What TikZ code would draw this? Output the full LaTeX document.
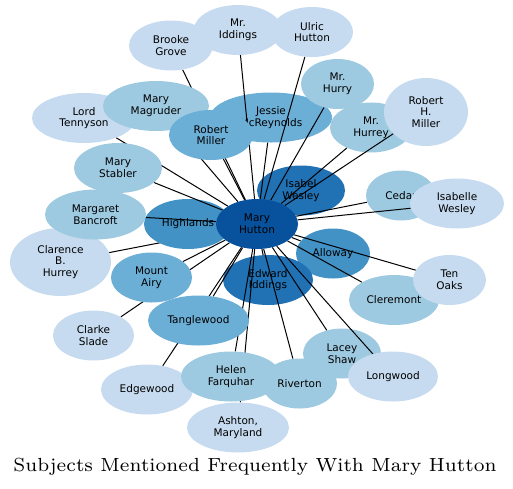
\documentclass[tikz,border=0pt]{standalone}
\usepackage{fontspec}
\usepackage{tikz}
\usetikzlibrary{shapes.geometric}
\newfontfamily\labelfont{DejaVu Sans}
\newfontfamily\titlefont{lmroman7-regular}[Extension=.otf]
\definecolor{paleblue}{RGB}{198, 219, 239}
\definecolor{softblue}{RGB}{158, 202, 225}
\definecolor{midblue}{RGB}{107, 174, 214}
\definecolor{richblue}{RGB}{66, 146, 198}
\definecolor{deepblue}{RGB}{33, 113, 181}
\definecolor{hubblue}{RGB}{8, 81, 156}
\pgfdeclarelayer{lowlinks}
\pgfdeclarelayer{lownodes}
\pgfdeclarelayer{links}
\pgfsetlayers{lowlinks,lownodes,links,main}

\begin{document}
\begin{tikzpicture}[
    x=1pt, y=-1pt,
    subject/.style={ellipse, inner sep=0pt, minimum height=50pt, align=center, text=black, font=\labelfont\fontsize{10.5}{11.8}\selectfont},
    pale/.style={subject, fill=paleblue},
    soft/.style={subject, fill=softblue},
    mid/.style={subject, fill=midblue},
    rich/.style={subject, fill=richblue},
    deep/.style={subject, fill=deepblue},
    hub/.style={subject, fill=hubblue},
    link/.style={draw=black, line width=1pt}
]
    \useasboundingbox (0,0) rectangle (513,488);

    % nodes that the links run over
    \begin{pgfonlayer}{lownodes}
    \node[mid, minimum width=122pt] (jessie) at (271,117.5) {Jessie\\McReynolds};
    \node[soft, minimum width=82pt] (hurrey) at (371,127.5) {Mr.\\Hurrey};
    \node[soft, minimum width=70pt] (cedar) at (401,195.5) {Cedar};
    \node[rich, minimum width=88pt] (highlands) at (188,224) {Highlands};
    \node[deep, minimum width=88pt] (isabel) at (301,190.5) {Isabel\\Wesley};
    \node[rich, minimum width=74pt] (alloway) at (333,253.5) {Alloway};
    \node[deep, minimum width=90pt] (edward) at (268,280) {Edward\\Iddings};
    \node[soft, minimum width=78pt] (lacey) at (342,353.5) {Lacey\\Shaw};
    \end{pgfonlayer}

    % nodes on top
    \node[pale, minimum width=84pt] (brooke) at (171,45.5) {Brooke\\Grove};
    \node[pale, minimum width=88pt] (iddings) at (238,30) {Mr.\\Iddings};
    \node[pale, minimum width=82pt] (ulric) at (312,32) {Ulric\\Hutton};
    \node[soft, minimum width=73pt] (hurry) at (337.5,84) {Mr.\\Hurry};
    \node[pale, minimum width=84pt, minimum height=68pt] (robertH) at (426,112) {Robert\\H.\\Miller};
    \node[pale, minimum width=104pt] (tennyson) at (84,118) {Lord\\Tennyson};
    \node[soft, minimum width=106pt] (magruder) at (156,106) {Mary\\Magruder};
    \node[mid, minimum width=84pt] (robert) at (211,135) {Robert\\Miller};
    \node[soft, minimum width=88pt] (stabler) at (118,168) {Mary\\Stabler};
    \node[pale, minimum width=101pt, minimum height=68pt] (clarence) at (60.5,262) {Clarence\\B.\\Hurrey};
    \node[soft, minimum width=101pt] (bancroft) at (95.5,214.5) {Margaret\\Bancroft};
    \node[hub, minimum width=82pt] (hutton) at (257,224) {Mary\\Hutton};
    \node[pale, minimum width=94pt] (isabelle) at (457,203.5) {Isabelle\\Wesley};
    \node[mid, minimum width=81pt] (airy) at (151.5,277.5) {Mount\\Airy};
    \node[soft, minimum width=90pt] (cleremont) at (394,300) {Cleremont};
    \node[pale, minimum width=73pt] (tenoaks) at (449.5,280) {Ten\\Oaks};
    \node[pale, minimum width=81pt] (clarke) at (93.5,335.5) {Clarke\\Slade};
    \node[mid, minimum width=101pt] (tanglewood) at (198.5,320.5) {Tanglewood};
    \node[pale, minimum width=92pt] (edgewood) at (147,389.5) {Edgewood};
    \node[pale, minimum width=102pt] (ashton) at (238,427.5) {Ashton,\\Maryland};
    \node[soft, minimum width=100pt] (helen) at (231,376.5) {Helen\\Farquhar};
    \node[soft, minimum width=75pt] (riverton) at (299.5,383.5) {Riverton};
    \node[pale, minimum width=90pt] (longwood) at (393,376.5) {Longwood};

    % links from the hub
    \begin{pgfonlayer}{lowlinks}
    \draw[link] (hutton) -- (clarence);
    \end{pgfonlayer}
    \begin{pgfonlayer}{links}
    \draw[link] (hutton) -- (brooke);
    \draw[link] (hutton) -- (iddings);
    \draw[link] (hutton) -- (ulric);
    \draw[link] (hutton) -- (hurry);
    \draw[link] (hutton) -- (robertH);
    \draw[link] (hutton) -- (hurrey);
    \draw[link] (hutton) -- (jessie);
    \draw[link] (hutton) -- (robert);
    \draw[link] (hutton) -- (magruder);
    \draw[link] (hutton) -- (tennyson);
    \draw[link] (hutton) -- (stabler);
    \draw[link] (hutton) -- (bancroft);
    \draw[link] (hutton) -- (cedar);
    \draw[link] (hutton) -- (isabelle);
    \draw[link] (hutton) -- (airy);
    \draw[link] (hutton) -- (alloway);
    \draw[link] (hutton) -- (edward);
    \draw[link] (hutton) -- (tenoaks);
    \draw[link] (hutton) -- (cleremont);
    \draw[link] (hutton) -- (clarke);
    \draw[link] (hutton) -- (tanglewood);
    \draw[link] (hutton) -- (lacey);
    \draw[link] (hutton) -- (helen);
    \draw[link] (hutton) -- (riverton);
    \draw[link] (hutton) -- (longwood);
    \draw[link] (hutton) -- (edgewood);
    \draw[link] (hutton) -- (ashton);
    \end{pgfonlayer}

    \node[anchor=base, font=\titlefont\fontsize{19}{22}\selectfont] (caption) at (255,471) {Subjects Mentioned Frequently With Mary Hutton};
\end{tikzpicture}
\end{document}
